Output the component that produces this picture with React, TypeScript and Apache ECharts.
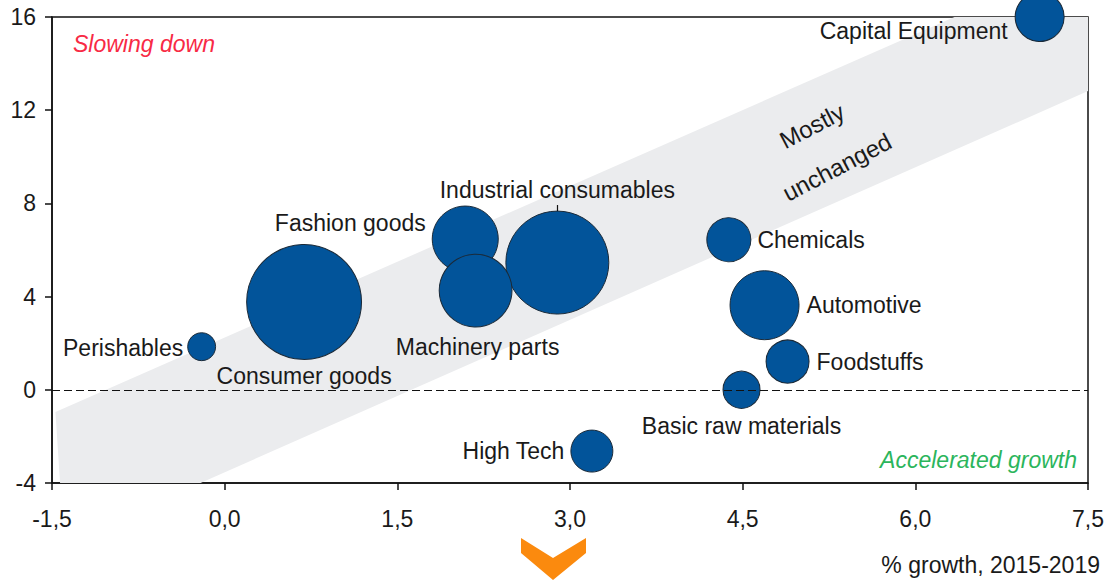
import React, { useEffect, useRef } from "react";
import * as echarts from "echarts";

// ---- Data ----
const categories = [
  "Capital Equipment",
  "Perishables",
  "Consumer goods",
  "Fashion goods",
  "Industrial consumables",
  "Machinery parts",
  "Chemicals",
  "Automotive",
  "Foodstuffs",
  "Basic raw materials",
  "High Tech",
];
// % growth 2015-2019 (x)
const growth = [7.08, -0.2, 0.69, 2.09, 2.89, 2.18, 4.38, 4.69, 4.89, 4.49, 3.19];
// vertical value (y)
const change = [16, 1.85, 3.77, 6.47, 5.46, 4.26, 6.44, 3.63, 1.21, 0, -2.63];
// bubble weight (area)
const weight = [24, 7.8, 132, 43.6, 106, 53, 19.4, 47.6, 18.5, 13.7, 17.6];

const xTicks = { min: -1.5, max: 7.5, interval: 1.5 };
const yTicks = { min: -4, max: 16, interval: 4 };

// "Mostly unchanged" band polygon (data coordinates)
const bandPolygon = [
  [-1.47, -0.95],
  [6.34, 16],
  [7.5, 16],
  [7.5, 12.82],
  [-0.21, -4],
  [-1.43, -4],
];

// ---- Label placement ----
const labelPlacement: Record<string, any> = {
  "Capital Equipment": { position: "left", distance: 7, offset: [0, 14] },
  Perishables: { position: "left", distance: 4, offset: [0, 1] },
  "Consumer goods": { position: "bottom", distance: 5 },
  "Fashion goods": { position: "left", distance: 6, offset: [0, -16] },
  "Industrial consumables": { position: "top", distance: 9 },
  "Machinery parts": { position: "bottom", distance: 8, offset: [2, 0] },
  Chemicals: { position: "right", distance: 6 },
  Automotive: { position: "right", distance: 7 },
  Foodstuffs: { position: "right", distance: 7 },
  "Basic raw materials": { position: "bottom", distance: 6 },
  "High Tech": { position: "left", distance: 6 },
};

const FONT = "'Liberation Sans', Arial, Helvetica, sans-serif";
const TEXT = "#1a1a1a";
const FS = 23;

export default function App() {
  const ref = useRef<HTMLDivElement>(null);

  useEffect(() => {
    if (!ref.current) return;
    const chart = echarts.init(ref.current, null, { renderer: "svg" });

    const bubbleData = categories.map((name, i) => ({
      name,
      value: [growth[i], change[i], weight[i]],
      label: {
        show: true,
        formatter: name,
        ...labelPlacement[name],
      },
    }));

    const fmt = (v: number) => v.toFixed(1).replace(".", ",");

    chart.setOption({
      animation: false,
      backgroundColor: "#ffffff",
      textStyle: { fontFamily: FONT },
      grid: {
        left: 52,
        right: 25,
        top: 17,
        bottom: 97,
        show: true,
        borderColor: "#111",
        borderWidth: 1.5,
        backgroundColor: "transparent",
      },
      xAxis: {
        type: "value",
        min: xTicks.min,
        max: xTicks.max,
        interval: xTicks.interval,
        axisLine: { show: true, onZero: false, lineStyle: { color: "#111", width: 1.5 } },
        axisTick: { show: true, length: 7, lineStyle: { color: "#111", width: 1.5 } },
        splitLine: { show: false },
        axisLabel: {
          color: TEXT,
          fontSize: FS,
          fontFamily: FONT,
          margin: 24,
          formatter: fmt,
        },
      },
      yAxis: {
        type: "value",
        min: yTicks.min,
        max: yTicks.max,
        interval: yTicks.interval,
        axisLine: { show: true, onZero: false, lineStyle: { color: "#111", width: 1.5 } },
        axisTick: { show: true, length: 7, lineStyle: { color: "#111", width: 1.5 } },
        splitLine: { show: false },
        axisLabel: {
          color: TEXT,
          fontSize: FS,
          fontFamily: FONT,
          margin: 16,
        },
      },
      series: [
        {
          type: "custom",
          z: 1,
          silent: true,
          clip: true,
          data: [0],
          renderItem: (params: any, api: any) => ({
            type: "polygon",
            shape: { points: bandPolygon.map((p) => api.coord(p)) },
            style: { fill: "#ebecee" },
          }),
        },
        {
          type: "scatter",
          z: 3,
          data: bubbleData,
          symbolSize: (v: number[]) => Math.sqrt(v[2]) * 10,
          itemStyle: {
            color: "#02549a",
            borderColor: "#1b2a38",
            borderWidth: 1,
            opacity: 1,
          },
          label: {
            show: true,
            color: TEXT,
            fontSize: FS,
            fontFamily: FONT,
          },
          emphasis: { disabled: true },
          markLine: {
            silent: true,
            symbol: "none",
            label: { show: false },
            data: [
              {
                yAxis: 0,
                lineStyle: { type: [8, 4], color: "#111", width: 1.2 },
              },
              [
                { coord: [2.89, 7.93], lineStyle: { type: "solid", color: "#111", width: 1.2 } },
                { coord: [2.89, 7.67] },
              ],
            ],
          },
        },
      ],
      graphic: [
        {
          type: "text",
          z: 100,
          left: 73,
          top: 32,
          style: {
            text: "Slowing down",
            fill: "#f82a45",
            font: `italic ${FS}px ${FONT}`,
          },
        },
        {
          type: "text",
          z: 100,
          x: 1077,
          y: 460,
          style: {
            text: "Accelerated growth",
            fill: "#2bb55c",
            font: `italic ${FS}px ${FONT}`,
            align: "right",
            verticalAlign: "middle",
          },
        },
        {
          type: "text",
          z: 100,
          x: 812,
          y: 126,
          rotation: 0.48,
          style: {
            text: "Mostly",
            fill: TEXT,
            font: `24px ${FONT}`,
            align: "center",
            verticalAlign: "middle",
          },
        },
        {
          type: "text",
          z: 100,
          x: 837,
          y: 167,
          rotation: 0.48,
          style: {
            text: "unchanged",
            fill: TEXT,
            font: `24px ${FONT}`,
            align: "center",
            verticalAlign: "middle",
          },
        },
        {
          type: "polygon",
          z: 100,
          shape: {
            points: [
              [521, 538],
              [553, 558],
              [586, 538],
              [586, 553],
              [553, 580],
              [521, 553],
            ],
          },
          style: { fill: "#fb8a0e" },
        },
        {
          type: "text",
          z: 100,
          x: 1100,
          y: 565,
          style: {
            text: "% growth, 2015-2019",
            fill: TEXT,
            font: `${FS}px ${FONT}`,
            align: "right",
            verticalAlign: "middle",
          },
        },
      ],
    });

    return () => chart.dispose();
  }, []);

  return (
    <div
      ref={ref}
      style={{ position: "fixed", left: 0, top: 0, width: 1113, height: 580 }}
    />
  );
}
